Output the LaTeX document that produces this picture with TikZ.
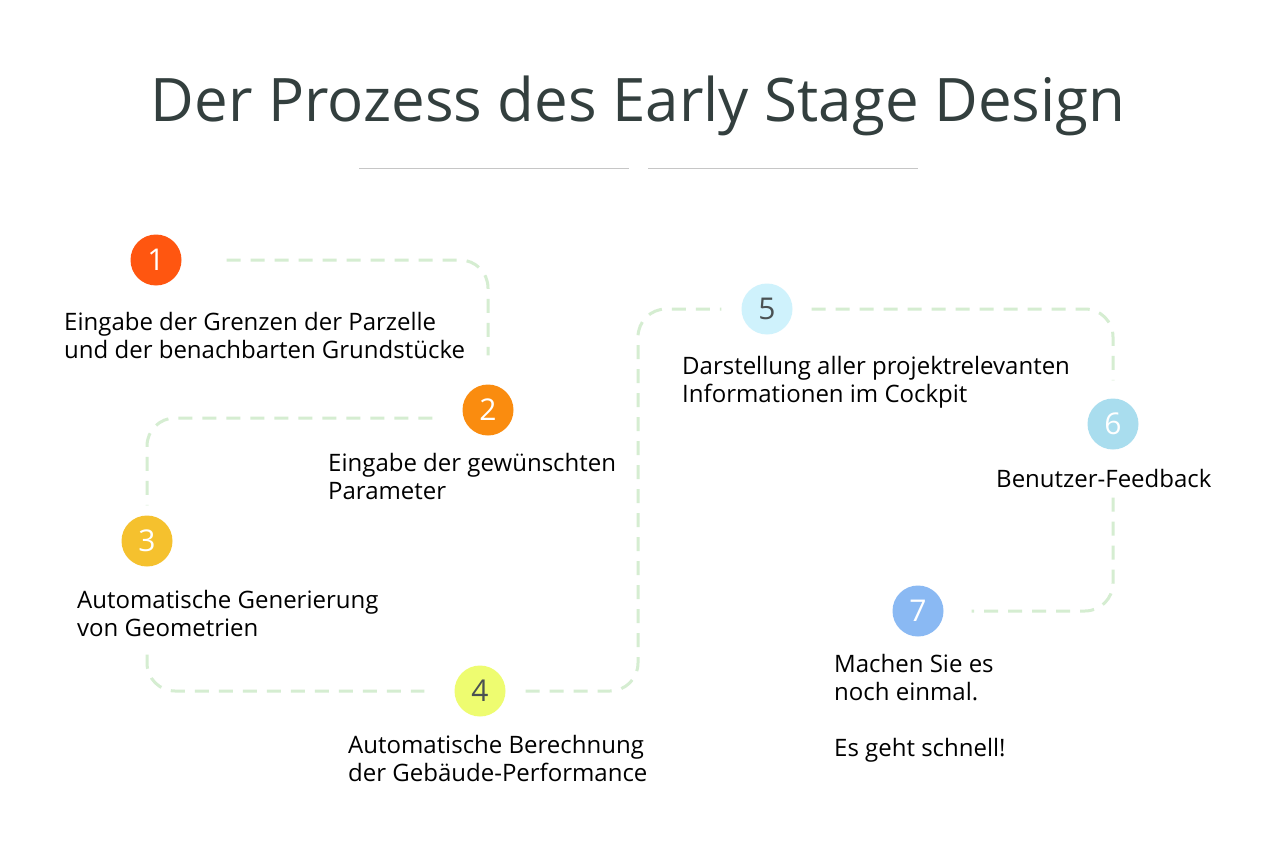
\documentclass[tikz,border=0pt]{standalone}
\usepackage{fontspec}
\setmainfont{Open Sans}
\newfontfamily\titlefont{Open Sans}
\definecolor{stepA}{HTML}{FF5610}
\definecolor{stepB}{HTML}{FA8C0F}
\definecolor{stepC}{HTML}{F5C12E}
\definecolor{stepD}{HTML}{EEFC70}
\definecolor{stepE}{HTML}{CFF2FC}
\definecolor{stepF}{HTML}{A9DDEE}
\definecolor{stepG}{HTML}{8AB9F3}
\definecolor{trailgreen}{HTML}{D5EDD1}
\definecolor{titlegray}{HTML}{333F3E}
\definecolor{digitgray}{HTML}{4A5152}
\begin{document}
\begin{tikzpicture}[x=1pt, y=-1pt,
	every node/.append style={text=black, font=\fontsize{24}{28}\selectfont},
	stepdot/.style={circle, minimum size=51pt, inner sep=0pt, text=white, font=\fontsize{30}{30}\selectfont},
	steptext/.style={anchor=base west, align=left, inner sep=0pt},
	trail/.style={draw=trailgreen, line width=3pt, dash pattern=on 14pt off 10pt, rounded corners=28pt}]
	\fill[white] (0,0) rectangle (1277,864);
	\useasboundingbox (0,0) rectangle (1277,864);
	
	\node (title) at (638,122) [anchor=base, text=titlegray, font=\titlefont\fontsize{60}{62}\selectfont] {Der Prozess des Early Stage Design};
	\draw[gray!45, line width=1pt] (359,168) coordinate (l1) -- (629,168) coordinate (l2);
	\draw[gray!45, line width=1pt] (648,168) coordinate (r1) -- (918,168) coordinate (r2);
	
	\node (s1) at (156,260) [stepdot, fill=stepA] {1};
	\node (s2) at (488,410) [stepdot, fill=stepB] {2};
	\node (s3) at (147,541) [stepdot, fill=stepC] {3};
	\node (s4) at (480,691) [stepdot, fill=stepD, text=digitgray] {4};
	\node (s5) at (767,309) [stepdot, fill=stepE, text=digitgray] {5};
	\node (s6) at (1113,424) [stepdot, fill=stepF] {6};
	\node (s7) at (918,611) [stepdot, fill=stepG] {7};
	
	% base anchor = baseline of the last line
	\node (t1) at (64,358) [steptext] {Eingabe der Grenzen der Parzelle\\und der benachbarten Grundstücke};
	\node (t2) at (328,499) [steptext] {Eingabe der gewünschten\\Parameter};
	\node (t3) at (77,636) [steptext] {Automatische Generierung\\von Geometrien};
	\node (t4) at (348,781) [steptext] {Automatische Berechnung\\der Gebäude-Performance};
	\node (t5) at (682,402) [steptext] {Darstellung aller projektrelevanten\\Informationen im Cockpit};
	\node (t6) at (996,487) [steptext] {Benutzer-Feedback};
	\node (t7) at (834,756) [steptext] {Machen Sie es\\noch einmal.\\[28pt]Es geht schnell!};
	
	\coordinate (m) at (638,500);
	\draw[trail] ([xshift=45pt]s1.east) -| ([yshift=29pt]s2.north);
	\draw[trail] ([xshift=-30pt,yshift=-8pt]s2.west) -| ([yshift=10pt]s3.north);
	\draw[trail] ([yshift=-88pt]s3.south) |- ([xshift=-30pt]s4.west);
	\draw[trail] ([xshift=20pt]s4.east) -| (m) |- ([xshift=-20pt]s5.west);
	\draw[trail] ([xshift=19pt]s5.east) -| ([yshift=18pt]s6.north);
	\draw[trail] ([yshift=-48pt]s6.south) |- ([xshift=28pt]s7.east);
\end{tikzpicture}
\end{document}
